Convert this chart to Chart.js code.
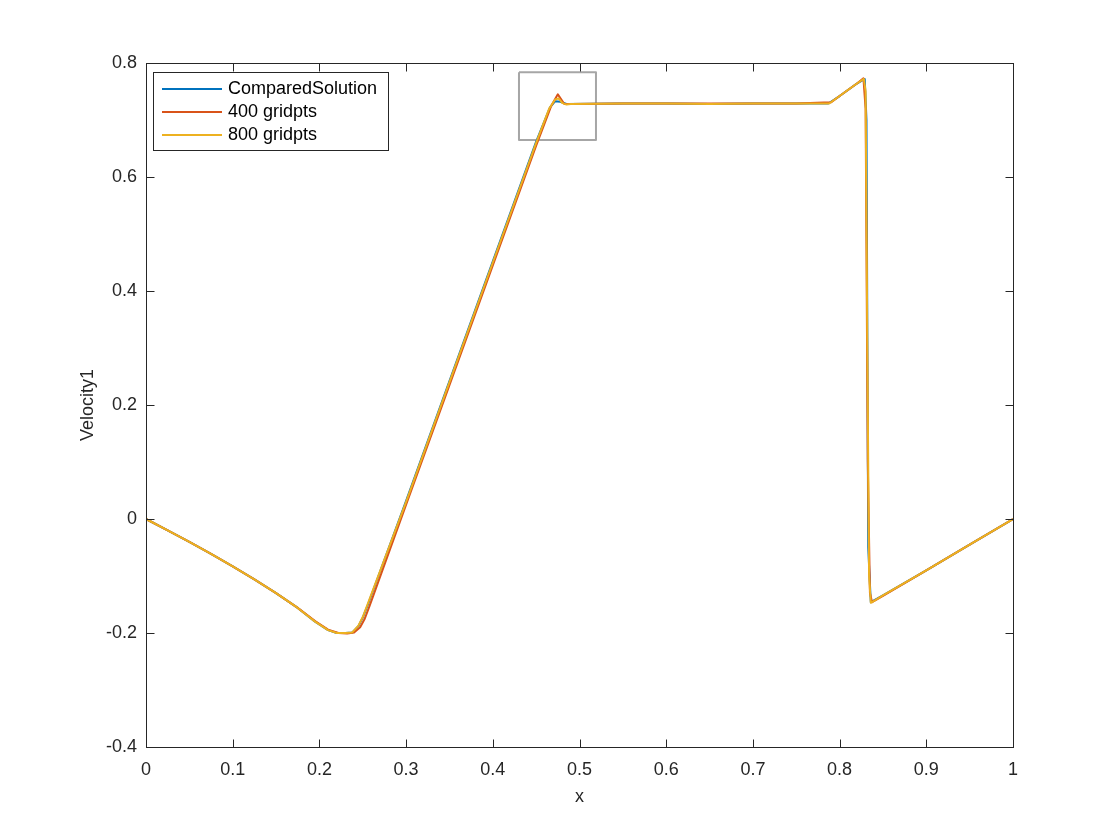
<!DOCTYPE html>
<html>
<head>
<meta charset="utf-8">
<script src="https://cdn.jsdelivr.net/npm/chart.js@4/dist/chart.umd.min.js"></script>
<style>
html,body{margin:0;padding:0;background:#fff;}
#wrap{width:1120px;height:840px;}
</style>
</head>
<body>
<div id="wrap"><canvas id="c" width="1120" height="840"></canvas></div>
<script>
// ---- data ----
const seriesLabels = ['ComparedSolution', '400 gridpts', '800 gridpts'];

const xCompared = [0, 0.025, 0.05, 0.075, 0.1, 0.125, 0.15, 0.175, 0.195, 0.21, 0.22, 0.23, 0.238, 0.245, 0.25, 0.256, 0.3, 0.35, 0.4, 0.45, 0.466, 0.472, 0.478, 0.485, 0.55, 0.6, 0.65, 0.7, 0.75, 0.787, 0.8, 0.81, 0.82, 0.829, 0.831, 0.833, 0.836, 0.85, 0.9, 0.95, 1];
const yCompared = [0, -0.02, -0.04, -0.061, -0.083, -0.106, -0.13, -0.156, -0.18, -0.195, -0.2, -0.2, -0.199, -0.188, -0.173, -0.15, 0.032, 0.242, 0.452, 0.662, 0.722, 0.733, 0.732, 0.728, 0.729, 0.729, 0.728, 0.729, 0.729, 0.729, 0.742, 0.753, 0.764, 0.772, 0.7, -0.05, -0.146, -0.134, -0.09, -0.045, 0];

const x400 = [0, 0.025, 0.05, 0.075, 0.1, 0.125, 0.15, 0.175, 0.195, 0.21, 0.222, 0.232, 0.24, 0.247, 0.252, 0.258, 0.3, 0.35, 0.4, 0.45, 0.4675, 0.475, 0.4825, 0.49, 0.55, 0.6, 0.65, 0.7, 0.75, 0.79, 0.8, 0.81, 0.82, 0.8275, 0.83, 0.8325, 0.835, 0.8375, 0.85, 0.9, 0.95, 1.0];
const y400 = [0, -0.02, -0.04, -0.061, -0.083, -0.106, -0.13, -0.156, -0.179, -0.194, -0.2, -0.201, -0.199, -0.19, -0.176, -0.152, 0.025, 0.235, 0.445, 0.655, 0.725, 0.745, 0.728, 0.728, 0.729, 0.729, 0.729, 0.729, 0.729, 0.731, 0.742, 0.753, 0.764, 0.773, 0.72, 0.1, -0.13, -0.146, -0.135, -0.09, -0.045, 0];

const x800 = [0, 0.025, 0.05, 0.075, 0.1, 0.125, 0.15, 0.175, 0.195, 0.21, 0.22, 0.23, 0.238, 0.245, 0.25, 0.256, 0.3, 0.35, 0.4, 0.45, 0.465, 0.472, 0.476, 0.48, 0.485, 0.49, 0.55, 0.6, 0.65, 0.7, 0.75, 0.788, 0.8, 0.81, 0.82, 0.828, 0.83, 0.832, 0.834, 0.836, 0.85, 0.9, 0.95, 1.0];
const y800 = [0, -0.02, -0.04, -0.061, -0.083, -0.106, -0.13, -0.156, -0.18, -0.195, -0.2, -0.2, -0.199, -0.187, -0.172, -0.148, 0.03, 0.24, 0.45, 0.66, 0.72, 0.736, 0.738, 0.73, 0.727, 0.728, 0.729, 0.729, 0.728, 0.729, 0.729, 0.729, 0.742, 0.753, 0.764, 0.772, 0.75, 0.3, -0.1, -0.147, -0.134, -0.09, -0.045, 0];

// zoom rectangle drawn in the figure (data units)
const zoomBoxX = [0.4302, 0.519, 0.519, 0.4302, 0.4302];
const zoomBoxY = [0.7837, 0.7837, 0.665, 0.665, 0.7837];

const xTickValues = [0, 0.1, 0.2, 0.3, 0.4, 0.5, 0.6, 0.7, 0.8, 0.9, 1];
const yTickValues = [-0.4, -0.2, 0, 0.2, 0.4, 0.6, 0.8];

const colors = ['#0072BD', '#D95319', '#EDB120'];
const axisColor = '#262626';
const FONT = '"Liberation Sans", Arial, Helvetica, sans-serif';
const FS = 18;

function pts(xs, ys) { return xs.map((x, i) => ({x: x, y: ys[i]})); }

const framePlugin = {
  id: 'frame',
  beforeDraw(chart) {
    const ctx = chart.ctx;
    ctx.save();
    ctx.fillStyle = '#fff';
    ctx.fillRect(0, 0, chart.width, chart.height);
    ctx.restore();
  },
  afterDraw(chart) {
    const ctx = chart.ctx;
    const a = chart.chartArea;
    const xs = chart.scales.x, ys = chart.scales.y;
    const L = Math.round(a.left) + 0.5, R = Math.round(a.right) + 0.5;
    const T = Math.round(a.top) + 0.5, B = Math.round(a.bottom) + 0.5;
    ctx.save();
    ctx.strokeStyle = axisColor;
    ctx.lineWidth = 1;
    ctx.strokeRect(L, T, R - L, B - T);
    const tl = 8;
    ctx.beginPath();
    xTickValues.forEach(v => {
      const p = Math.round(xs.getPixelForValue(v)) + 0.5;
      ctx.moveTo(p, B); ctx.lineTo(p, B - tl);
      ctx.moveTo(p, T); ctx.lineTo(p, T + tl);
    });
    yTickValues.forEach(v => {
      const p = Math.round(ys.getPixelForValue(v)) + 0.5;
      ctx.moveTo(L, p); ctx.lineTo(L + tl, p);
      ctx.moveTo(R, p); ctx.lineTo(R - tl, p);
    });
    ctx.stroke();

    // legend box
    const lx = 153.5, ly = 72.5, lw = 235, lh = 78;
    ctx.fillStyle = '#fff';
    ctx.fillRect(lx, ly, lw, lh);
    ctx.strokeStyle = axisColor;
    ctx.lineWidth = 1;
    ctx.strokeRect(lx, ly, lw, lh);
    ctx.font = FS + 'px ' + FONT;
    ctx.textBaseline = 'middle';
    ctx.textAlign = 'left';
    seriesLabels.forEach((lab, i) => {
      const yy = 89 + i * 23;
      ctx.strokeStyle = colors[i];
      ctx.lineWidth = 2;
      ctx.beginPath();
      ctx.moveTo(162, yy); ctx.lineTo(222, yy);
      ctx.stroke();
      ctx.fillStyle = '#000';
      ctx.fillText(lab, 228, yy);
    });
    ctx.restore();
  }
};

const chart = new Chart(document.getElementById('c'), {
  type: 'line',
  data: {
    datasets: [
      {label: seriesLabels[0], data: pts(xCompared, yCompared), borderColor: colors[0], borderWidth: 2, order: 3},
      {label: seriesLabels[1], data: pts(x400, y400), borderColor: colors[1], borderWidth: 2, order: 2},
      {label: seriesLabels[2], data: pts(x800, y800), borderColor: colors[2], borderWidth: 2, order: 1},
      {label: 'zoom', data: pts(zoomBoxX, zoomBoxY), borderColor: '#a6a6a6', borderWidth: 2, order: 5}
    ]
  },
  options: {
    responsive: false,
    animation: false,
    events: [],
    layout: {padding: {left: 0, top: 63, right: 107, bottom: 0}},
    elements: {point: {radius: 0}, line: {tension: 0, fill: false, borderJoinStyle: 'round'}},
    plugins: {legend: {display: false}, tooltip: {enabled: false}},
    scales: {
      x: {
        type: 'linear', min: 0, max: 1,
        afterFit(s) { s.height = 93; },
        afterBuildTicks(s) { s.ticks = xTickValues.map(v => ({value: v})); },
        grid: {display: false, drawTicks: false},
        border: {display: false},
        ticks: {
          padding: 12, color: axisColor, maxRotation: 0, autoSkip: false,
          font: {family: FONT, size: FS},
          callback: v => String(Number(v.toFixed(2)))
        },
        title: {display: true, text: 'x', color: axisColor, font: {family: FONT, size: FS}, padding: {top: 0, bottom: 32}}
      },
      y: {
        type: 'linear', min: -0.4, max: 0.8,
        afterFit(s) { s.width = 146; },
        afterBuildTicks(s) { s.ticks = yTickValues.map(v => ({value: v})); },
        grid: {display: false, drawTicks: false},
        border: {display: false},
        ticks: {
          padding: 9, color: axisColor, autoSkip: false,
          font: {family: FONT, size: FS},
          callback: v => String(Number(v.toFixed(2)))
        },
        title: {display: true, text: 'Velocity1', color: axisColor, font: {family: FONT, size: FS}, padding: {top: 77, bottom: 0}}
      }
    }
  },
  plugins: [framePlugin]
});
</script>
</body>
</html>
